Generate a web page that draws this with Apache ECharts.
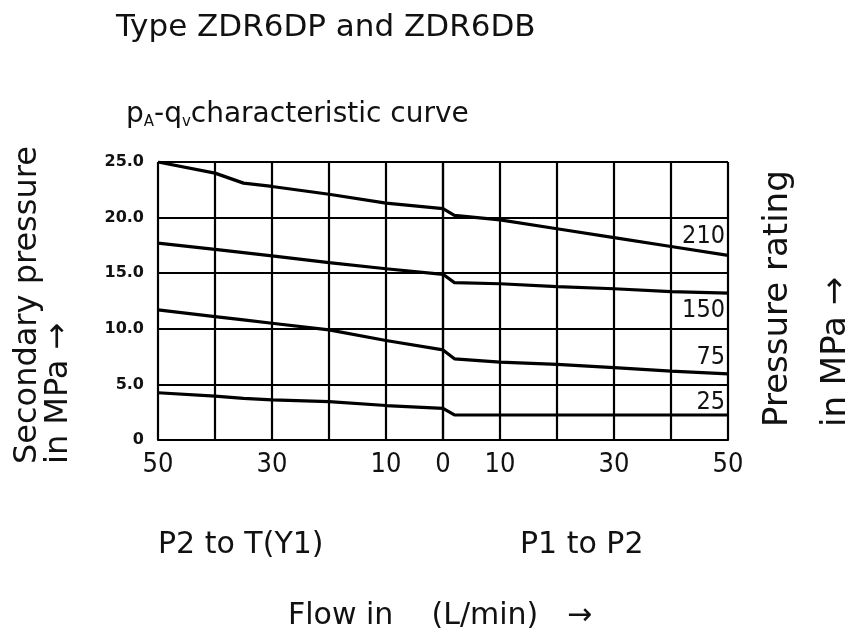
<!DOCTYPE html>
<html>
<head>
<meta charset="utf-8">
<script src="https://cdn.jsdelivr.net/npm/echarts@6/dist/echarts.min.js"></script>
<style>
html, body { margin: 0; padding: 0; background: #fff; }
#chart { width: 860px; height: 644px; }
</style>
</head>
<body>
<div id="chart"></div>
<script>
// flow in L/min: negative = P2 to T(Y1), positive = P1 to P2
const flow = [-50, -40, -35, -30, -20, -10, 0, 2, 10, 20, 30, 40, 50];

// secondary pressure (MPa) for each pressure rating
const p210 = [25.0, 24.0, 23.1, 22.8, 22.1, 21.3, 20.8, 20.2, 19.8, 19.0, 18.2, 17.4, 16.6];
const p150 = [17.7, 17.15, 16.85, 16.55, 15.95, 15.4, 14.9, 14.15, 14.05, 13.8, 13.6, 13.35, 13.2];
const p75 = [11.7, 11.1, 10.8, 10.5, 9.9, 8.95, 8.1, 7.3, 7.0, 6.8, 6.5, 6.2, 5.95];
const p25 = [4.25, 3.95, 3.75, 3.6, 3.45, 3.1, 2.85, 2.25, 2.25, 2.25, 2.25, 2.25, 2.25];

const ratings = ["210", "150", "75", "25"];
const curves = [p210, p150, p75, p25];

// tick labels
const xLabelTicks = [-50, -30, -10, 0, 10, 30, 50];
const yTickLabels = ["0", "5.0", "10.0", "15.0", "20.0", "25.0"];

// where each rating label sits relative to the end of its curve
const labelOffsets = [[-3, -19], [-3, 17], [-3, -16], [-3, -12]];

const txt = "#111";
const sans = "DejaVu Sans";
const narrow = "'Liberation Sans Narrow', 'DejaVu Sans Condensed', sans-serif";

let myChart = echarts.init(document.getElementById("chart"));

let option = {
  animation: false,
  backgroundColor: "#fff",
  title: [
    {
      text: "Type ZDR6DP and ZDR6DB",
      left: 116,
      top: 12,
      padding: 0,
      textStyle: { fontFamily: sans, fontSize: 31, lineHeight: 31, fontWeight: "normal", color: txt },
    },
    {
      text: "p{sub|A}-q{sub|v}characteristic curve",
      left: 126,
      top: 100,
      padding: 0,
      textStyle: {
        fontFamily: sans,
        fontSize: 28,
        lineHeight: 30,
        fontWeight: "normal",
        color: txt,
        rich: {
          sub: { fontFamily: sans, fontSize: 15, lineHeight: 4, verticalAlign: "bottom", color: txt },
        },
      },
    },
    {
      text: "P2 to T(Y1)",
      left: 158,
      top: 530,
      padding: 0,
      textStyle: { fontFamily: sans, fontSize: 30, lineHeight: 30, fontWeight: "normal", color: txt },
    },
    {
      text: "P1 to P2",
      left: 520,
      top: 530,
      padding: 0,
      textStyle: { fontFamily: sans, fontSize: 30, lineHeight: 30, fontWeight: "normal", color: txt },
    },
    {
      text: "Flow in    (L/min)   →",
      left: 288,
      top: 601,
      padding: 0,
      textStyle: { fontFamily: sans, fontSize: 30, lineHeight: 30, fontWeight: "normal", color: txt },
    },
  ],

  // rotated axis names
  graphic: [
    {
      type: "text",
      x: 12.5,
      y: 464,
      rotation: Math.PI / 2,
      style: {
        text: "Secondary pressure\nin MPa →",
        fontFamily: sans,
        fontSize: 32,
        lineHeight: 31,
        fill: txt,
        align: "left",
        verticalAlign: "top",
      },
    },
    {
      type: "text",
      x: 749,
      y: 427,
      rotation: Math.PI / 2,
      style: {
        text: "Pressure rating\nin MPa →",
        fontFamily: sans,
        fontSize: 34,
        lineHeight: 58,
        fill: txt,
        align: "left",
        verticalAlign: "top",
      },
    },
  ],

  grid: {
    left: 158,
    right: 132,
    top: 162,
    bottom: 204,
    outerBoundsMode: "none",
  },

  xAxis: {
    type: "value",
    min: -50,
    max: 50,
    interval: 10,
    axisLine: { show: true, onZero: false, lineStyle: { color: "#000", width: 2.2 } },
    axisTick: { show: false },
    splitLine: { show: true, lineStyle: { color: "#000", width: 2.2 } },
    axisLabel: {
      margin: 11,
      fontFamily: narrow,
      fontSize: 27,
      color: txt,
      formatter: function (v) {
        return xLabelTicks.indexOf(v) >= 0 ? String(Math.abs(v)) : "";
      },
    },
  },

  yAxis: {
    type: "value",
    min: 0,
    max: 25,
    interval: 5,
    axisLine: { show: true, lineStyle: { color: "#000", width: 2.2 } },
    axisTick: { show: false },
    splitLine: { show: true, lineStyle: { color: "#000", width: 2.2 } },
    axisLabel: {
      margin: 14,
      fontFamily: sans,
      fontWeight: "bold",
      fontSize: 16,
      color: txt,
      formatter: function (v) {
        return yTickLabels[Math.round(v / 5)];
      },
    },
  },

  series: curves.map(function (vals, k) {
    return {
      name: ratings[k],
      type: "line",
      symbol: "none",
      smooth: false,
      lineStyle: { color: "#000", width: 3.2 },
      data: flow.map(function (x, i) {
        return [x, vals[i]];
      }),
      endLabel: {
        show: true,
        formatter: "{a}",
        distance: 0,
        align: "right",
        verticalAlign: "middle",
        offset: labelOffsets[k],
        fontFamily: narrow,
        fontSize: 25,
        color: txt,
      },
    };
  }),
};
myChart.setOption(option);
</script>
</body>
</html>
